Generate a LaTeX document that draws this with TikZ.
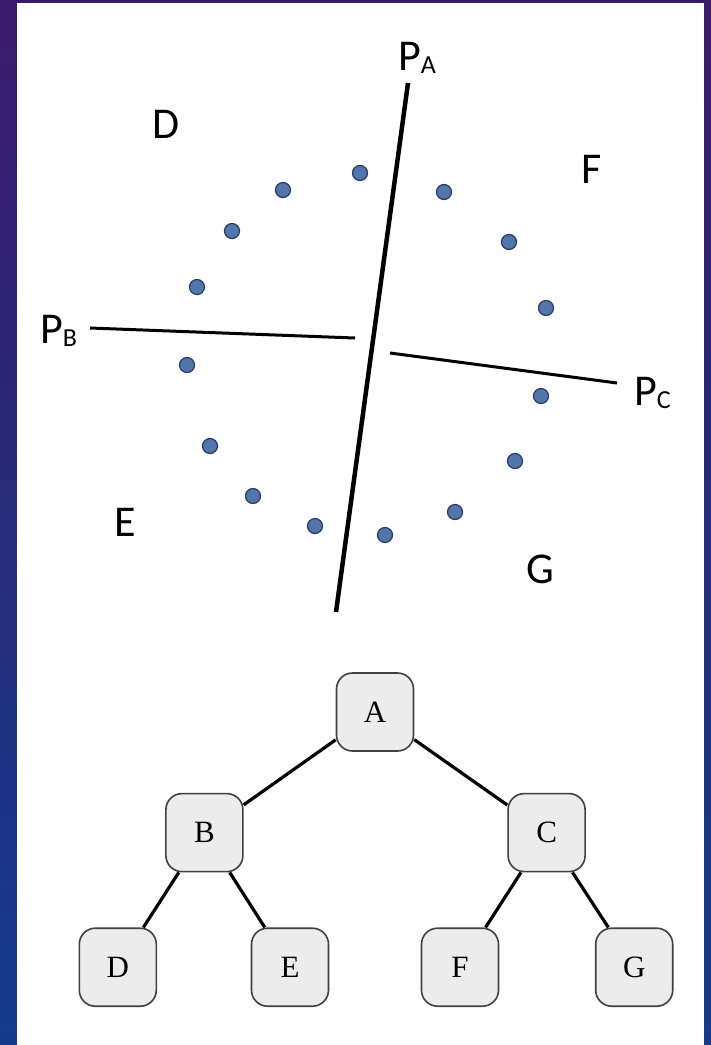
\documentclass[tikz,border=0pt]{standalone}
\usepackage{fontspec}
\setmainfont{Carlito}
\newfontfamily\treefont{Liberation Serif}
\usepackage{xcolor}
\usepackage{tikz}
\usetikzlibrary{positioning}
\definecolor{bgtop}{RGB}{58,26,108}
\definecolor{bgbot}{RGB}{20,60,142}
\definecolor{dotfill}{RGB}{82,118,172}
\definecolor{dotdraw}{RGB}{38,58,98}
\definecolor{boxfill}{RGB}{236,236,236}
\newcommand{\plabel}[1]{P\raisebox{-3pt}{\fontsize{26}{26}\selectfont #1}}

\begin{document}
\begin{tikzpicture}[
    x=1pt, y=-1pt,
    font=\fontsize{44}{48}\selectfont,
    tree_box/.style={draw=black!75, line width=1.6pt, fill=boxfill, rounded corners=16pt, minimum width=77pt, minimum height=78pt, inner sep=0pt, font=\treefont\fontsize{31}{33}\selectfont},
    tree_edge/.style={line width=3.2pt, draw=black},
    cut_line/.style={line width=3pt, draw=black},
    pt_dot/.style={circle, draw=dotdraw, line width=1.2pt, fill=dotfill, minimum size=15pt, inner sep=0pt},
    region_lbl/.style={anchor=base, inner sep=0pt},
    plane_lbl/.style={anchor=base west, inner sep=0pt}
]

\useasboundingbox (0,0) rectangle (711,1045);
\shade [top color=bgtop, bottom color=bgbot] (0,0) rectangle (711,1045);
\fill [white] (17,3) rectangle (704,1045);

\coordinate (pa_top) at (408,83);
\coordinate (pa_bot) at (336,612);
\coordinate (pb_end) at (90,328);
\coordinate (pb_mid) at (355,338);
\coordinate (pc_mid) at (390,353);
\coordinate (pc_end) at (617,383);

\draw [cut_line, line width=4.5pt] (pa_top) -- (pa_bot);
\draw [cut_line] (pb_end) -- (pb_mid);
\draw [cut_line] (pc_mid) -- (pc_end);

\node (pa_lbl) [plane_lbl] at (398,70)  {\plabel{A}};
\node (pb_lbl) [plane_lbl] at (40,343)  {\plabel{B}};
\node (pc_lbl) [plane_lbl] at (634,405) {\plabel{C}};

\node (reg_d) [region_lbl] at (166,138) {D};
\node (reg_f) [region_lbl] at (592,183) {F};
\node (reg_e) [region_lbl] at (125,536) {E};
\node (reg_g) [region_lbl] at (540,583) {G};

\node (p1)  [pt_dot] at (360,173) {};
\node (p2)  [pt_dot] at (444,192) {};
\node (p3)  [pt_dot] at (283,190) {};
\node (p4)  [pt_dot] at (232,231) {};
\node (p5)  [pt_dot] at (509,242) {};
\node (p6)  [pt_dot] at (197,287) {};
\node (p7)  [pt_dot] at (546,308) {};
\node (p8)  [pt_dot] at (187,365) {};
\node (p9)  [pt_dot] at (541,396) {};
\node (p10) [pt_dot] at (210,446) {};
\node (p11) [pt_dot] at (515,461) {};
\node (p12) [pt_dot] at (253,496) {};
\node (p13) [pt_dot] at (455,512) {};
\node (p14) [pt_dot] at (315,526) {};
\node (p15) [pt_dot] at (385,535) {};

\node (ta) [tree_box] at (375,712) {A};
\node (tb) [tree_box, below left=41pt and 92pt of ta] {B};
\node (tc) [tree_box, below right=41pt and 93pt of ta] {C};
\node (td) [tree_box, below left=55pt and 8pt of tb] {D};
\node (te) [tree_box, below right=55pt and 7pt of tb] {E};
\node (tf) [tree_box, below left=55pt and 8pt of tc] {F};
\node (tg) [tree_box, below right=55pt and 9pt of tc] {G};

\draw [tree_edge] (ta) -- (tb);
\draw [tree_edge] (ta) -- (tc);
\draw [tree_edge] (tb) -- (td);
\draw [tree_edge] (tb) -- (te);
\draw [tree_edge] (tc) -- (tf);
\draw [tree_edge] (tc) -- (tg);

\end{tikzpicture}
\end{document}
